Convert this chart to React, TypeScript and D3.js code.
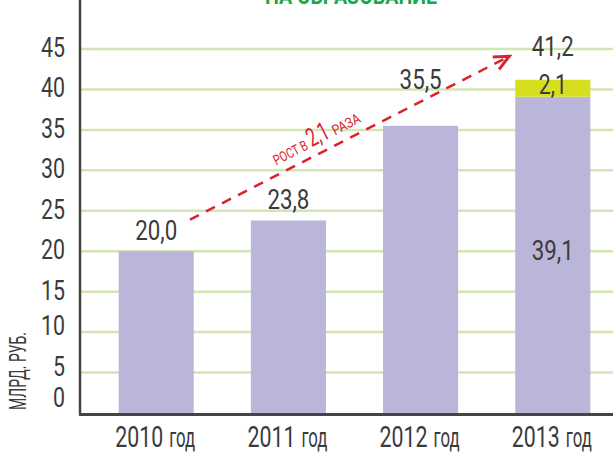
import React from "react";
import * as d3 from "d3";

const years = ["2010", "2011", "2012", "2013"];
const yearSuffix = "год";
const baseValues = [20.0, 23.8, 35.5, 39.1];
const extraValues = [0, 0, 0, 2.1];
const totalLabels = ["20,0", "23,8", "35,5", "41,2"];
const yTicks = [0, 5, 10, 15, 20, 25, 30, 35, 40, 45];
const growthLabel = ["РОСТ В", "2,1", "РАЗА"];
const title = "НА ОБРАЗОВАНИЕ";
const yTitle = "МЛРД. РУБ.";

const W = 613;
const H = 452;
const FONT = "Roboto, 'DejaVu Sans', sans-serif";
const TEXT = "#3b3b3b";
const PURPLE = "#b9b6da";
const YELLOW = "#d5df1f";
const GRID = "#d2e6b5";
const RED = "#d9222f";
const fmt = (v: number) => v.toFixed(1).replace(".", ",");

export default function App() {
  const y = d3.scaleLinear().domain([0, 45]).range([413, 49]);
  const x = d3
    .scaleBand<string>()
    .domain(years)
    .range([90.1, 618.9])
    .paddingInner(0.432)
    .paddingOuter(0.216);
  const bw = x.bandwidth();
  const cx = (yr: string) => (x(yr) as number) + bw / 2;

  // growth arrow, from the 2010 bar to the 2013 bar
  const x1 = (x("2010") as number) + bw * 0.95;
  const y1 = y(23.9);
  const x2 = (x("2013") as number) - 6;
  const y2 = y(44.1);
  const len = Math.hypot(x2 - x1, y2 - y1);
  const ux = (x2 - x1) / len;
  const uy = (y2 - y1) / len;
  const ang = (Math.atan2(y2 - y1, x2 - x1) * 180) / Math.PI;
  const head = 15;
  const hw = 7;
  const bx = x2 - ux * head;
  const by = y2 - uy * head;
  const arrowYAt = (px: number) => y1 + ((px - x1) / (x2 - x1)) * (y2 - y1);
  const lx = 323;
  const ly = arrowYAt(lx);

  const digitW = 12;

  return (
    <svg width={W} height={H} style={{ position: "absolute", left: 0, top: 0 }}>
      <rect width={W} height={H} fill="#fff" />
      <text x={351} y={4} textAnchor="middle" fontFamily={FONT} fontWeight="bold" fontSize={22} fill="#1aa64a" textLength={172} lengthAdjust="spacingAndGlyphs">
        {title}
      </text>
      {yTicks.filter((t) => t > 0).map((t) => (
        <line key={t} x1={80} x2={W} y1={y(t)} y2={y(t)} stroke={GRID} strokeWidth={2.5} />
      ))}
      {years.map((yr, i) => (
        <g key={yr}>
          <rect x={x(yr)} y={y(baseValues[i])} width={bw} height={y(0) - y(baseValues[i])} fill={PURPLE} />
          {extraValues[i] > 0 && (
            <rect
              x={x(yr)}
              y={y(baseValues[i] + extraValues[i])}
              width={bw}
              height={y(baseValues[i]) - y(baseValues[i] + extraValues[i])}
              fill={YELLOW}
            />
          )}
        </g>
      ))}
      {yTicks.map((t) => (
        <text
          key={t}
          x={65}
          y={t === 0 ? y(0) - 6 : t < 15 ? y(t) + 3 : y(t) + 8}
          textAnchor="end"
          fontFamily={FONT}
          fontSize={28}
          fill={TEXT}
          textLength={String(t).length * digitW}
          lengthAdjust="spacingAndGlyphs"
        >
          {t}
        </text>
      ))}
      <text transform={`translate(26,371) rotate(-90)`} textAnchor="middle" fontFamily={FONT} fontSize={23} fill={TEXT} textLength={78} lengthAdjust="spacingAndGlyphs">
        {yTitle}
      </text>
      <line x1={80} x2={80} y1={0} y2={y(0) + 1} stroke="#444" strokeWidth={2.5} />
      <line x1={79} x2={W} y1={y(0) + 1.5} y2={y(0) + 1.5} stroke="#444" strokeWidth={3} />
      {years.map((yr) => (
        <g key={yr}>
          <text x={cx(yr) - 41} y={447} fontFamily={FONT} fontSize={29} fill={TEXT} textLength={48} lengthAdjust="spacingAndGlyphs">
            {yr}
          </text>
          <text x={cx(yr) + 13} y={447} fontFamily={FONT} fontSize={27} fill={TEXT} textLength={26} lengthAdjust="spacingAndGlyphs">
            {yearSuffix}
          </text>
        </g>
      ))}
      {years.map((yr, i) => {
        const total = baseValues[i] + extraValues[i];
        let by0 = y(total) - 11;
        if (i === 2) by0 = arrowYAt(cx(yr)) - 13;
        if (i === 3) by0 = y(total) - 24;
        return (
          <text key={yr} x={cx(yr)} y={by0} textAnchor="middle" fontFamily={FONT} fontSize={28} fill={TEXT} textLength={42} lengthAdjust="spacingAndGlyphs">
            {totalLabels[i]}
          </text>
        );
      })}
      <text x={cx("2013")} y={y(baseValues[3]) - 3} textAnchor="middle" fontFamily={FONT} fontSize={28} fill={TEXT} textLength={28} lengthAdjust="spacingAndGlyphs">
        {fmt(extraValues[3])}
      </text>
      <text x={cx("2013")} y={y(20) + 9} textAnchor="middle" fontFamily={FONT} fontSize={28} fill={TEXT} textLength={42} lengthAdjust="spacingAndGlyphs">
        {fmt(baseValues[3])}
      </text>
      <line x1={x1} y1={y1} x2={x2 - ux * 2} y2={y2 - uy * 2} stroke={RED} strokeWidth={2.5} strokeDasharray="10,8" />
      <polyline
        points={`${bx - uy * hw},${by + ux * hw} ${x2},${y2} ${bx + uy * hw},${by - ux * hw}`}
        fill="none"
        stroke={RED}
        strokeWidth={3}
        strokeLinejoin="miter"
      />
      <g transform={`translate(${lx},${ly}) rotate(${ang}) translate(0,-9)`}>
        <text x={-48} y={0} fontFamily={FONT} fontSize={14} fill={RED} textLength={37} lengthAdjust="spacingAndGlyphs">
          {growthLabel[0]}
        </text>
        <text x={-8} y={0} fontFamily={FONT} fontSize={26} fill={RED} textLength={22} lengthAdjust="spacingAndGlyphs">
          {growthLabel[1]}
        </text>
        <text x={18} y={0} fontFamily={FONT} fontSize={14} fill={RED} textLength={30} lengthAdjust="spacingAndGlyphs">
          {growthLabel[2]}
        </text>
      </g>
    </svg>
  );
}
